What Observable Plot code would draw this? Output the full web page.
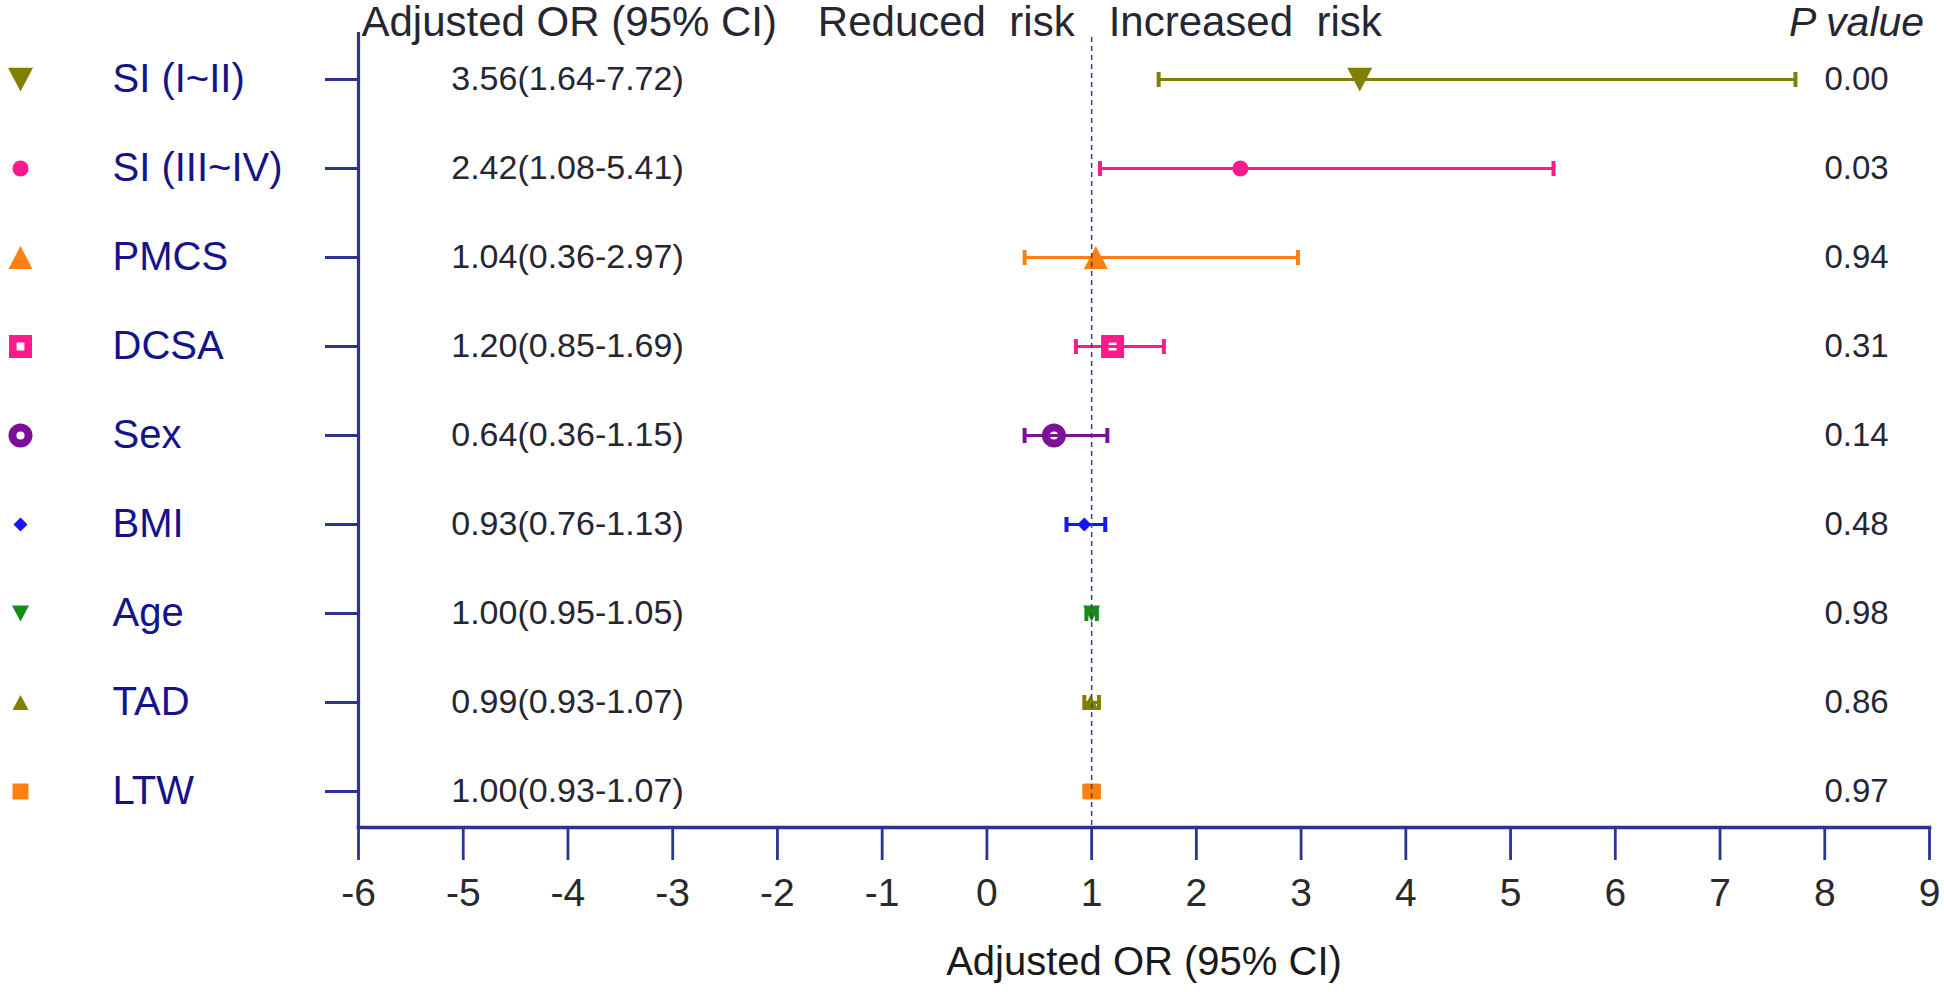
<!DOCTYPE html>
<html>
<head>
<meta charset="utf-8">
<script src="https://cdn.jsdelivr.net/npm/d3@7"></script>
<script src="https://cdn.jsdelivr.net/npm/@observablehq/plot@0.6"></script>
<style>
  html, body { margin: 0; padding: 0; background: #fff; }
  #chart svg { display: block; }
</style>
</head>
<body>
<div id="chart"></div>
<script>
// ---- data ----
const labels   = ["SI (I~II)", "SI (III~IV)", "PMCS", "DCSA", "Sex", "BMI", "Age", "TAD", "LTW"];
const orValues = [3.56, 2.42, 1.04, 1.20, 0.64, 0.93, 1.00, 0.99, 1.00];
const ciLower  = [1.64, 1.08, 0.36, 0.85, 0.36, 0.76, 0.95, 0.93, 0.93];
const ciUpper  = [7.72, 5.41, 2.97, 1.69, 1.15, 1.13, 1.05, 1.07, 1.07];
const pValues  = [0.00, 0.03, 0.94, 0.31, 0.14, 0.48, 0.98, 0.86, 0.97];
const xTicks   = [-6, -5, -4, -3, -2, -1, 0, 1, 2, 3, 4, 5, 6, 7, 8, 9];
const xDomain  = [-6, 9];
const refOR    = 1;
const headerLeft   = "Adjusted OR (95% CI)";
const headerReduced = "Reduced\u00a0\u00a0risk";
const headerIncreased = "Increased\u00a0\u00a0risk";
const headerP      = "P value";
const axisTitle    = "Adjusted OR (95% CI)";

// ---- styles ----
const palette      = ["#808000", "#ff1a8c", "#ff8012", "#ff1a8c", "#7d1099", "#1414ff", "#168c16", "#808000", "#ff8012"];
const markerShapes = ["triDown", "circle", "triUp", "ringSquare", "ringCircle", "diamond", "triDown", "triUp", "square"];
const markerHalf   = [12.5, 8, 12, 11.5, 12, 7, 8.5, 8, 8];
const navy = "#2b3590";
const labelColor = "#14148a";
const textColor = "#262633";
const font = "'Liberation Sans', Arial, Helvetica, sans-serif";

function makeSymbol(shape, h) {
  return {
    draw(ctx) {
      const t = h * 0.95, k = h * 0.34;
      switch (shape) {
        case "triDown":
          ctx.moveTo(-h, -t); ctx.lineTo(h, -t); ctx.lineTo(0, t); ctx.closePath(); break;
        case "triUp":
          ctx.moveTo(-h, t); ctx.lineTo(h, t); ctx.lineTo(0, -t); ctx.closePath(); break;
        case "circle":
          ctx.moveTo(h, 0); ctx.arc(0, 0, h, 0, 2 * Math.PI); ctx.closePath(); break;
        case "ringCircle":
          ctx.moveTo(h, 0); ctx.arc(0, 0, h, 0, 2 * Math.PI); ctx.closePath();
          ctx.moveTo(k, 0); ctx.arc(0, 0, k, 0, 2 * Math.PI, true); ctx.closePath(); break;
        case "square":
          ctx.moveTo(-h, -h); ctx.lineTo(h, -h); ctx.lineTo(h, h); ctx.lineTo(-h, h); ctx.closePath(); break;
        case "ringSquare":
          ctx.moveTo(-h, -h); ctx.lineTo(h, -h); ctx.lineTo(h, h); ctx.lineTo(-h, h); ctx.closePath();
          ctx.moveTo(-k, -k); ctx.lineTo(-k, k); ctx.lineTo(k, k); ctx.lineTo(k, -k); ctx.closePath(); break;
        case "diamond":
          ctx.moveTo(0, -h); ctx.lineTo(h, 0); ctx.lineTo(0, h); ctx.lineTo(-h, 0); ctx.closePath(); break;
        case "vbar":
          ctx.moveTo(0, -h); ctx.lineTo(0, h); break;
      }
    }
  };
}
const symbols = markerShapes.map((s, i) => makeSymbol(s, markerHalf[i]));
const capSymbol = makeSymbol("vbar", 7.5);

const rows = labels.map((label, i) => ({
  label,
  or: orValues[i],
  lo: ciLower[i],
  hi: ciUpper[i],
  p: pValues[i],
  ciText: `${orValues[i].toFixed(2)}(${ciLower[i].toFixed(2)}-${ciUpper[i].toFixed(2)})`,
  pText: pValues[i].toFixed(2)
}));

const chart = Plot.plot({
  width: 1944,
  height: 992,
  marginLeft: 358,
  marginRight: 15,
  marginTop: 33,
  marginBottom: 165,
  style: { fontFamily: font, background: "#fff", overflow: "visible" },
  x: { domain: xDomain },
  y: { type: "point", domain: labels, padding: 0.448, align: 0.5625 },
  color: { type: "ordinal", domain: labels, range: palette },
  symbol: { domain: labels, range: symbols },
  marks: [
    // axes
    Plot.frame({ anchor: "left", stroke: navy, strokeWidth: 3.2 }),
    Plot.frame({ anchor: "bottom", stroke: navy, strokeWidth: 3.6 }),
    Plot.axisX({ ticks: xTicks, tickSize: 33, tickPadding: 18, tickFormat: d => String(d),
                 stroke: navy, strokeWidth: 2.8, fill: "#2a2a2a", fontSize: 39, label: null }),
    Plot.axisY({ tickSize: 33, tickFormat: () => "", stroke: navy, strokeWidth: 3.2, label: null }),

    // CI lines and caps
    Plot.ruleY(rows, { y: "label", x1: "lo", x2: "hi", stroke: "label", strokeWidth: 3.2 }),
    Plot.dot(rows, { x: "lo", y: "label", symbol: capSymbol, stroke: "label", fill: "none", strokeWidth: 4, r: 8 }),
    Plot.dot(rows, { x: "hi", y: "label", symbol: capSymbol, stroke: "label", fill: "none", strokeWidth: 4, r: 8 }),

    // point estimates
    Plot.dot(rows, { x: "or", y: "label", symbol: "label", fill: "label", stroke: "none", r: 8 }),

    // reference line
    Plot.ruleX([refOR], { stroke: "#3c3c85", strokeWidth: 1.5, strokeDasharray: "5,4", insetTop: 4 }),

    // legend markers and row labels on the left
    Plot.dot(rows, { y: "label", frameAnchor: "left", dx: -338, symbol: "label", fill: "label", stroke: "none", r: 8 }),
    Plot.text(rows, { y: "label", text: "label", frameAnchor: "left", dx: -246, textAnchor: "start",
                      fill: labelColor, fontSize: 40 }),

    // OR (95% CI) text column
    Plot.text(rows, { y: "label", text: "ciText", frameAnchor: "left", dx: 209, textAnchor: "middle",
                      fill: textColor, fontSize: 34 }),

    // P value column
    Plot.text(rows, { y: "label", text: "pText", frameAnchor: "right", dx: -73, textAnchor: "middle",
                      fill: textColor, fontSize: 33 }),

    // headers
    Plot.text([headerLeft], { text: d => d, frameAnchor: "top-left", dx: 3, dy: 2, textAnchor: "start",
                              lineAnchor: "bottom", fill: textColor, fontSize: 42 }),
    Plot.text([headerReduced], { x: () => refOR, text: d => d, frameAnchor: "top", dx: -17, dy: 2,
                                 textAnchor: "end", lineAnchor: "bottom", fill: textColor, fontSize: 42 }),
    Plot.text([headerIncreased], { x: () => refOR, text: d => d, frameAnchor: "top", dx: 17, dy: 2,
                                   textAnchor: "start", lineAnchor: "bottom", fill: textColor, fontSize: 42 }),
    Plot.text([headerP], { text: d => d, frameAnchor: "top-right", dx: -73, dy: 2, textAnchor: "middle",
                           lineAnchor: "bottom", fill: textColor, fontSize: 41, fontStyle: "italic" }),

    // axis title
    Plot.text([axisTitle], { text: d => d, frameAnchor: "bottom", dy: 135, lineAnchor: "middle",
                             fill: "#1a1a1a", fontSize: 40 })
  ]
});

document.getElementById("chart").appendChild(chart);
</script>
</body>
</html>
